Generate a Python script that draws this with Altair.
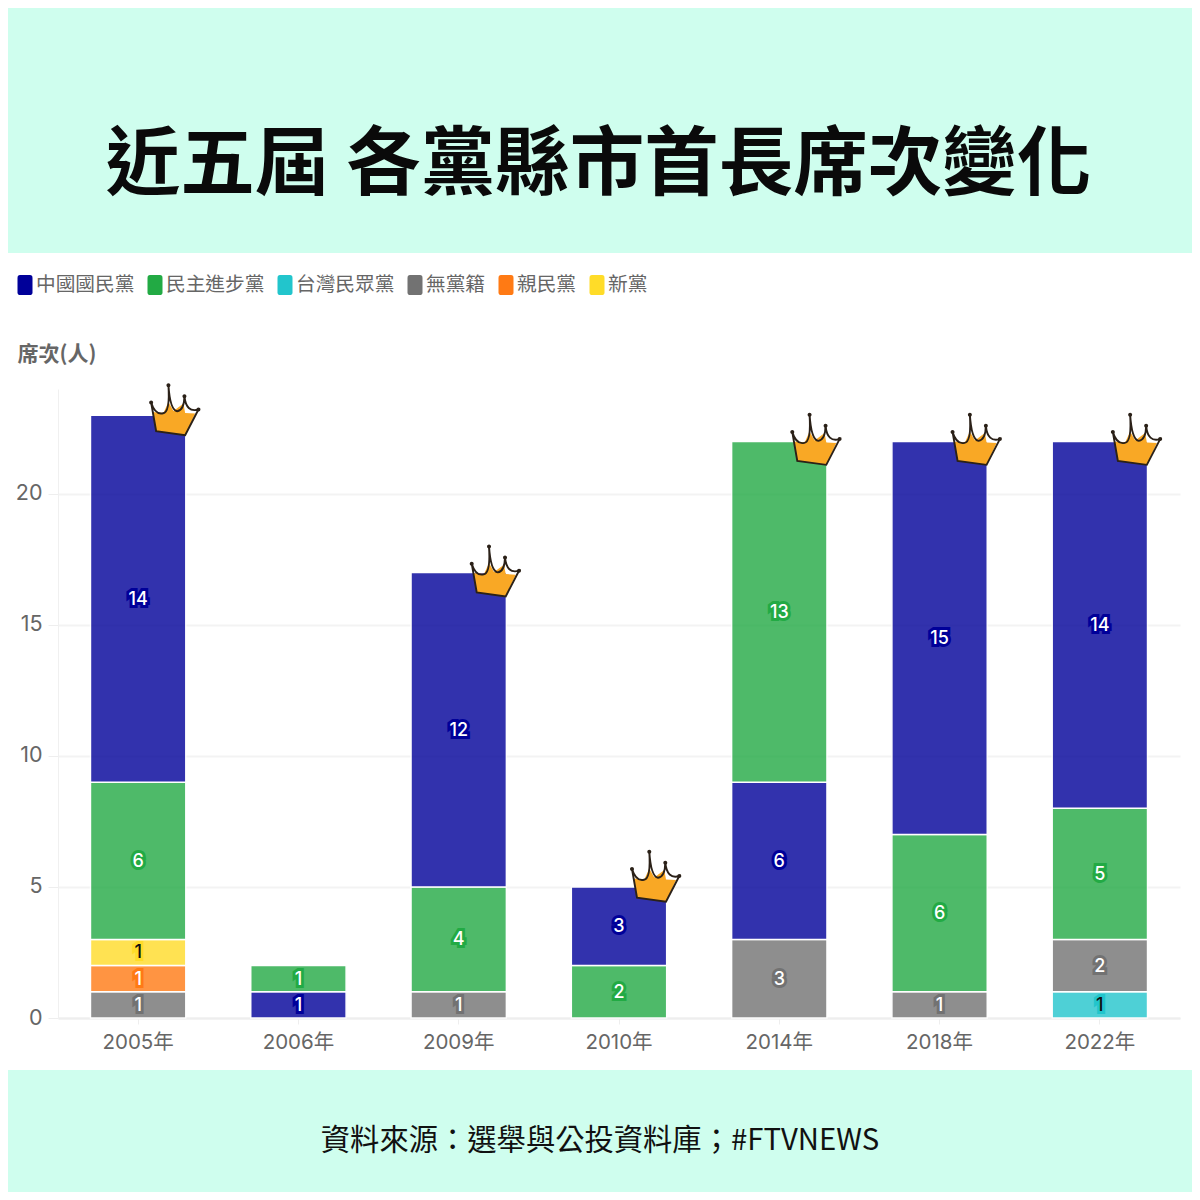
import altair as alt
import pandas as pd

YEARS = ["2005年", "2006年", "2009年", "2010年", "2014年", "2018年", "2022年"]
PARTIES = ["中國國民黨", "民主進步黨", "台灣民眾黨", "無黨籍", "親民黨", "新黨"]
COLORS = ["#000099", "#22aa44", "#22c5cc", "#727272", "#ff7a14", "#ffdc28"]

# stacks listed bottom to top
STACK_2005 = [("無黨籍", 1), ("親民黨", 1), ("新黨", 1), ("民主進步黨", 6), ("中國國民黨", 14)]
STACK_2006 = [("中國國民黨", 1), ("民主進步黨", 1)]
STACK_2009 = [("無黨籍", 1), ("民主進步黨", 4), ("中國國民黨", 12)]
STACK_2010 = [("民主進步黨", 2), ("中國國民黨", 3)]
STACK_2014 = [("無黨籍", 3), ("中國國民黨", 6), ("民主進步黨", 13)]
STACK_2018 = [("無黨籍", 1), ("民主進步黨", 6), ("中國國民黨", 15)]
STACK_2022 = [("台灣民眾黨", 1), ("無黨籍", 2), ("民主進步黨", 5), ("中國國民黨", 14)]
STACKS = [STACK_2005, STACK_2006, STACK_2009, STACK_2010, STACK_2014, STACK_2018, STACK_2022]
CROWN_YEARS = ["2005年", "2009年", "2010年", "2014年", "2018年", "2022年"]
CROWN_LEVEL = [23, 16.85, 5.2, 21.87, 21.87, 21.87]

TITLE = "近五屆 各黨縣市首長席次變化"
SOURCE = "資料來源：選舉與公投資料庫；#FTVNEWS"
MINT = "#cffeee"
CJK = "'Noto Sans CJK TC'"
AXFONT = "Inter, 'Noto Sans CJK TC'"

rows = []
for yr, stack in zip(YEARS, STACKS):
    base = 0
    for party, v in stack:
        rows.append({"year": yr, "party": party, "v": v, "y0": base, "y1": base + v,
                     "mid": base + v / 2,
                     "ink": "#111111" if party in ("新黨", "台灣民眾黨") else "#ffffff"})
        base += v
df = pd.DataFrame(rows)
crowns = pd.DataFrame({"year": CROWN_YEARS, "level": CROWN_LEVEL})

X = alt.X("year:N", sort=YEARS,
          scale=alt.Scale(domain=YEARS, paddingInner=0.405, paddingOuter=0.2025),
          axis=alt.Axis(title=None, labelAngle=0, labelFont=AXFONT, labelFontSize=20.5,
                        labelColor="#666666", labelPadding=8, tickSize=6, tickColor="#eeeeee",
                        domainColor="#eeeeee", domainWidth=2, grid=False))
Y = alt.Y("y1:Q", scale=alt.Scale(domain=[0, 24], nice=False),
          axis=alt.Axis(title="席次(人)", titleFont=CJK, titleFontSize=21, titleFontWeight="bold",
                        titleColor="#666666", titleAngle=0, titleAlign="left", titleX=-41, titleY=-25,
                        values=[0, 5, 10, 15, 20], labelFont=AXFONT, labelFontSize=21.5,
                        labelColor="#666666", labelPadding=6, tickSize=10, tickColor="#eeeeee",
                        gridColor="#f3f3f3", gridWidth=2, domainColor="#f0f0f0"))

SYMBOL = ("M-0.5,-1 L0.5,-1 Q0.75,-1 0.75,-0.72 L0.75,0.72 Q0.75,1 0.5,1 L-0.5,1 "
          "Q-0.75,1 -0.75,0.72 L-0.75,-0.72 Q-0.75,-1 -0.5,-1 Z")

bars = alt.Chart(df).mark_bar(opacity=0.8, stroke="#ffffff", strokeWidth=1.5, strokeOpacity=1).encode(
    x=X, y=Y, y2="y0:Q",
    color=alt.Color("party:N", scale=alt.Scale(domain=PARTIES, range=COLORS),
                    legend=alt.Legend(title=None, orient="none", legendX=-43, legendY=-114,
                                      direction="horizontal", columns=6, symbolType=SYMBOL,
                                      symbolSize=400, symbolOpacity=1, symbolStrokeWidth=0,
                                      labelFont=CJK, labelFontSize=19.7, labelColor="#666666",
                                      labelOffset=1, columnPadding=10)),
)

halo = alt.Chart(df).mark_text(fontSize=18, font=AXFONT, fontWeight=500, strokeWidth=6, dy=1,
                               strokeJoin="miter", fill="transparent").encode(
    x="year:N", y=alt.Y("mid:Q"), text="v:Q",
    stroke=alt.Color("party:N", scale=alt.Scale(domain=PARTIES, range=COLORS), legend=None),
)
labels = alt.Chart(df).mark_text(fontSize=18, font=AXFONT, fontWeight=500, dy=1).encode(
    x="year:N", y=alt.Y("mid:Q"), text="v:Q",
    color=alt.Color("ink:N", scale=None),
)

BODY = "M14.7,-3.3 L25.3,-2.3 L30.3,-13.3 L35.3,-4.3 L45.3,-11.7 L47,-2.3 L57,-1.7 L47,20 L18,16 Z"
LINES = ("M13,-12.7 Q17,0 25,-2 Q32,-3 30.3,-30 Q32,-5 39,-4 Q46,-5 46.3,-19 Q48,-2 60.3,-5.7 "
         "L47,20 L18,16 Z")
TIPS = ("M15,-12.7 A2,2 0 1 1 11,-12.7 A2,2 0 1 1 15,-12.7 Z "
        "M32.3,-30 A2,2 0 1 1 28.3,-30 A2,2 0 1 1 32.3,-30 Z "
        "M48.3,-19 A2,2 0 1 1 44.3,-19 A2,2 0 1 1 48.3,-19 Z "
        "M62.3,-5.7 A2,2 0 1 1 58.3,-5.7 A2,2 0 1 1 62.3,-5.7 Z")
CX = alt.X("year:N")
CY = alt.Y("level:Q")
crown_body = alt.Chart(crowns).mark_point(shape=BODY, size=4, filled=True, fill="#f9a825", opacity=1,
                                          strokeWidth=0).encode(x=CX, y=CY)
crown_line = alt.Chart(crowns).mark_point(shape=LINES, size=4, filled=False, stroke="#2b2118", opacity=1,
                                          strokeWidth=1.9).encode(x=CX, y=CY)
crown_tips = alt.Chart(crowns).mark_point(shape=TIPS, size=4, filled=True, fill="#2b2118", opacity=1,
                                          strokeWidth=0).encode(x=CX, y=CY)

band_top = alt.Chart(pd.DataFrame({"k": [0]})).mark_rect(color=MINT).encode(
    x=alt.value(-50), x2=alt.value(1134), y=alt.value(-381), y2=alt.value(-136))
band_bot = alt.Chart(pd.DataFrame({"k": [0]})).mark_rect(color=MINT).encode(
    x=alt.value(-50), x2=alt.value(1134), y=alt.value(681), y2=alt.value(803))

title = alt.Chart(pd.DataFrame({"t": [TITLE]})).mark_text(
    font=CJK, fontSize=74.5, fontWeight="bold", color="#0a0a0a", align="center", baseline="middle"
).encode(text="t:N", x=alt.value(540.5), y=alt.value(-222))
source = alt.Chart(pd.DataFrame({"t": [SOURCE]})).mark_text(
    font=CJK, fontSize=29.3, color="#111111", align="center", baseline="middle"
).encode(text="t:N", x=alt.value(542), y=alt.value(752))

chart = alt.layer(band_top, band_bot, bars, halo, labels, crown_body, crown_line, crown_tips, title, source).properties(
    width=1122, height=629,
    padding={"left": 50, "top": 381, "right": 12, "bottom": 174},
    autosize=alt.AutoSizeParams(type="none"),
    background="#ffffff",
).configure_view(stroke=None)

chart.save("out.html", embed_options={"renderer": "svg", "actions": False})
